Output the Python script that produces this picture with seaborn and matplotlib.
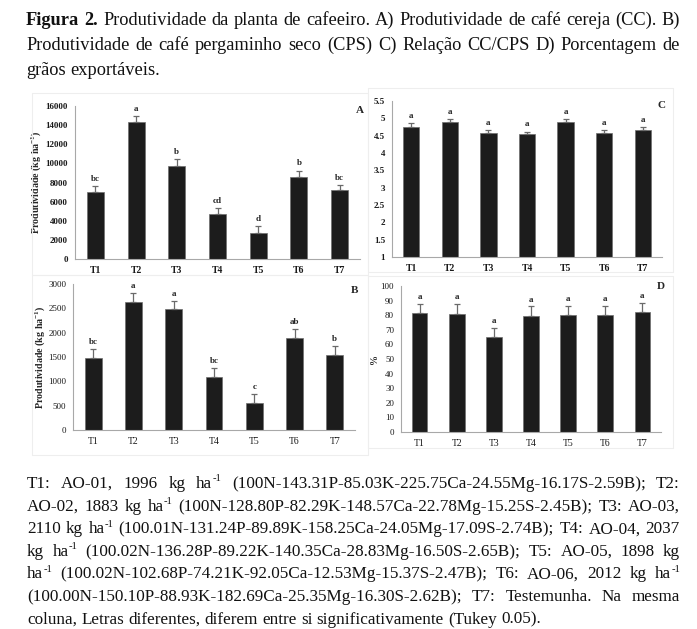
import matplotlib
matplotlib.use("Agg")
import matplotlib.pyplot as plt
import seaborn as sns
import pandas as pd
import numpy as np
from matplotlib.lines import Line2D

# ---------------- data ----------------
treatments = ["T1", "T2", "T3", "T4", "T5", "T6", "T7"]

cc_values = [7000, 14350, 9750, 4750, 2750, 8600, 7200]
cc_errors = [600, 600, 700, 600, 650, 650, 550]
cc_letters = ["bc", "a", "b", "cd", "d", "b", "bc"]

cps_values = [1470, 2640, 2480, 1090, 560, 1890, 1540]
cps_errors = [190, 180, 180, 190, 190, 190, 190]
cps_letters = ["bc", "a", "a", "bc", "c", "ab", "b"]

ratio_values = [4.76, 4.90, 4.57, 4.54, 4.90, 4.57, 4.66]
ratio_errors = [0.10, 0.08, 0.08, 0.08, 0.08, 0.08, 0.10]
ratio_letters = ["a", "a", "a", "a", "a", "a", "a"]

exp_values = [81.5, 81.0, 65.0, 79.5, 80.0, 80.0, 82.0]
exp_errors = [6.5, 6.5, 6.5, 6.5, 6.5, 6.5, 6.5]
exp_letters = ["a", "a", "a", "a", "a", "a", "a"]

cc_ticks = [0, 2000, 4000, 6000, 8000, 10000, 12000, 14000, 16000]
cps_ticks = [0, 500, 1000, 1500, 2000, 2500, 3000]
ratio_ticks = [1, 1.5, 2, 2.5, 3, 3.5, 4, 4.5, 5, 5.5]
ratio_ticklabels = ["1", "1.5", "2", "2.5", "3", "3.5", "4", "4.5", "5", "5.5"]
exp_ticks = [0, 10, 20, 30, 40, 50, 60, 70, 80, 90, 100]

title_lines = [
    "Figura 2. Produtividade da planta de cafeeiro. A) Produtividade de café cereja (CC). B)",
    "Produtividade de café pergaminho seco (CPS) C) Relação CC/CPS D) Porcentagem de",
    "grãos exportáveis.",
]
# "^" marks a superscript tail inside a word
foot_lines = [
    "T1: AO-01, 1996 kg ha^-1 (100N-143.31P-85.03K-225.75Ca-24.55Mg-16.17S-2.59B); T2:",
    "AO-02, 1883 kg ha^-1 (100N-128.80P-82.29K-148.57Ca-22.78Mg-15.25S-2.45B); T3: AO-03,",
    "2110 kg ha^-1 (100.01N-131.24P-89.89K-158.25Ca-24.05Mg-17.09S-2.74B); T4: AO-04, 2037",
    "kg ha^-1 (100.02N-136.28P-89.22K-140.35Ca-28.83Mg-16.50S-2.65B); T5: AO-05, 1898 kg",
    "ha^-1 (100.02N-102.68P-74.21K-92.05Ca-12.53Mg-15.37S-2.47B); T6: AO-06, 2012 kg ha^-1",
    "(100.00N-150.10P-88.93K-182.69Ca-25.35Mg-16.30S-2.62B); T7: Testemunha. Na mesma",
    "coluna, Letras diferentes, diferem entre si significativamente (Tukey 0.05).",
]

# ---------------- style ----------------
sns.set_style("white")
SERIF = ["Liberation Serif", "DejaVu Serif"]
plt.rcParams["font.family"] = SERIF
plt.rcParams["mathtext.fontset"] = "custom"
plt.rcParams["mathtext.rm"] = "Liberation Serif:bold"
plt.rcParams["mathtext.it"] = "Liberation Serif:italic"
plt.rcParams["mathtext.bf"] = "Liberation Serif:bold"

W, H = 697, 629
fig = plt.figure(figsize=(W / 100, H / 100), dpi=100)
fig.patch.set_facecolor("white")


def px_axes(left, top, right, bottom):
    return fig.add_axes([left / W, 1 - bottom / H, (right - left) / W, (bottom - top) / H])


# faint panel frames
frame_color = "#eeeeee"
for (x0, y0, x1, y1) in [(32, 93, 368, 275), (32, 275, 368, 455), (368, 88, 673, 272), (368, 276, 673, 448)]:
    xs = [x0 / W, x1 / W, x1 / W, x0 / W, x0 / W]
    ys = [1 - y0 / H, 1 - y0 / H, 1 - y1 / H, 1 - y1 / H, 1 - y0 / H]
    fig.add_artist(Line2D(xs, ys, color=frame_color, lw=0.8))


def panel(box, values, errors, letters, ticks, ylim, ylabel, tag, bold, tag_y,
          ticklabels=None, letter_off=0.02, labelpad=2.0):
    ax = px_axes(*box)
    df = pd.DataFrame({"trat": treatments, "val": values})
    sns.barplot(data=df, x="trat", y="val", ax=ax, color="#1c1c1c", width=0.42,
                errorbar=None, saturation=1, edgecolor="#6e6e6e", linewidth=0.5)
    x = np.arange(len(treatments))
    ax.errorbar(x, values, yerr=[np.zeros(len(values)), errors], fmt="none",
                ecolor="#6a6a6a", elinewidth=0.9, capsize=2.2, capthick=0.9)
    span = ylim[1] - ylim[0]
    weight = "bold" if bold else "normal"
    for i, (v, e, l) in enumerate(zip(values, errors, letters)):
        ax.text(i, v + e + letter_off * span, l, ha="center", va="bottom",
                fontsize=6.5, fontweight="bold", color="#222222")
    ax.set_ylim(*ylim)
    ax.set_xlim(-0.5, 6.5)
    ax.set_yticks(ticks)
    if ticklabels is not None:
        ax.set_yticklabels(ticklabels)
    ax.set_xlabel("")
    ax.set_ylabel(ylabel, fontsize=7.2, fontweight="bold", labelpad=labelpad)
    for s in ["top", "right"]:
        ax.spines[s].set_visible(False)
    for s in ["left", "bottom"]:
        ax.spines[s].set_color("#a8a8a8")
        ax.spines[s].set_linewidth(0.8)
    ax.tick_params(axis="y", length=3, width=0.7, color="#a8a8a8", labelsize=6.5, pad=2)
    ax.tick_params(axis="x", length=0, labelsize=7, pad=5)
    for lab in ax.get_yticklabels() + ax.get_xticklabels():
        lab.set_fontweight(weight)
        lab.set_color("#1a1a1a")
    ax.set_facecolor("none")
    ax.text(1.0, tag_y, tag, transform=ax.transAxes, ha="center",
            va="top", fontsize=8, fontweight="bold")
    return ax


panel((75, 106, 360, 259), cc_values, cc_errors, cc_letters, cc_ticks, (0, 16000),
      "Produtividade (kg ha$^{-1}$)", "A", True, 1.0, labelpad=2.0)
panel((392, 101, 662, 257), ratio_values, ratio_errors, ratio_letters, ratio_ticks, (1, 5.5),
      "", "C", True, 1.0, ticklabels=ratio_ticklabels)
panel((73, 284, 355, 430), cps_values, cps_errors, cps_letters, cps_ticks, (0, 3000),
      "Produtividade (kg ha$^{-1}$)", "B", False, 0.985, labelpad=0.5)
panel((401, 286, 661, 432), exp_values, exp_errors, exp_letters, exp_ticks, (0, 100),
      "%", "D", False, 1.03, labelpad=1.0)

# ---------------- justified text blocks ----------------
fig.canvas.draw()
renderer = fig.canvas.get_renderer()


def measure(s, size, weight="normal"):
    t = fig.text(0, 0, s, fontsize=size, fontweight=weight, family=SERIF)
    w = t.get_window_extent(renderer).width
    t.remove()
    return w


def word_parts(word, size, weight):
    """Return list of (text, size, dy_px, weight) parts for a word."""
    if "^" in word:
        base, rest = word.split("^", 1)
        sup = ""
        tail = ""
        for ch_i, ch in enumerate(rest):
            if ch in "-0123456789":
                sup += ch
            else:
                tail = rest[ch_i:]
                break
        parts = [(base, size, 0, weight), (sup, size * 0.62, size * 100 / 72 * 0.38, weight)]
        if tail:
            parts.append((tail, size, 0, weight))
        return parts
    return [(word, size, 0, weight)]


def word_width(word, size, weight):
    return sum(measure(p[0], p[1], p[3]) for p in word_parts(word, size, weight))


def natural_width(line, size, bold_words=0):
    words = line.split(" ")
    sp = measure("a a", size) - measure("aa", size)
    tot = sum(word_width(w, size, "bold" if k < bold_words else "normal") for k, w in enumerate(words))
    return tot + sp * (len(words) - 1)


def justify(line, x0, x1, y, size, last=False, bold_words=0):
    words = line.split(" ")
    weights = ["bold" if k < bold_words else "normal" for k in range(len(words))]
    widths = [word_width(w, size, wt) for w, wt in zip(words, weights)]
    n = len(words)
    sp = measure("a a", size) - measure("aa", size)
    if last or n < 2:
        gap = sp
    else:
        gap = (x1 - x0 - sum(widths)) / (n - 1)
    x = x0
    for w, wt, wd in zip(words, weights, widths):
        xx = x
        for (txt, sz, dy, pw) in word_parts(w, size, wt):
            fig.text(xx / W, 1 - (y - dy) / H, txt, fontsize=sz, fontweight=pw,
                     va="baseline", ha="left", color="#111111", family=SERIF)
            xx += measure(txt, sz, pw)
        x += wd + gap


X0, X1 = 26, 680
base = 12.0
tw = max(natural_width(l, base, 2 if k == 0 else 0) for k, l in enumerate(title_lines[:-1]))
title_size = base * (X1 - X0) / tw * 0.985
for k, line in enumerate(title_lines):
    justify(line, X0, X1, 25 + k * 25, title_size, last=(k == len(title_lines) - 1),
            bold_words=2 if k == 0 else 0)

fw = max(natural_width(l, base) for l in foot_lines[:-1])
foot_size = base * (X1 - X0) / fw * 0.99
for k, line in enumerate(foot_lines):
    justify(line, X0 + 1, X1, 488 + k * 22.6, foot_size, last=(k == len(foot_lines) - 1))

fig.savefig("out.png", dpi=100, facecolor="white")
